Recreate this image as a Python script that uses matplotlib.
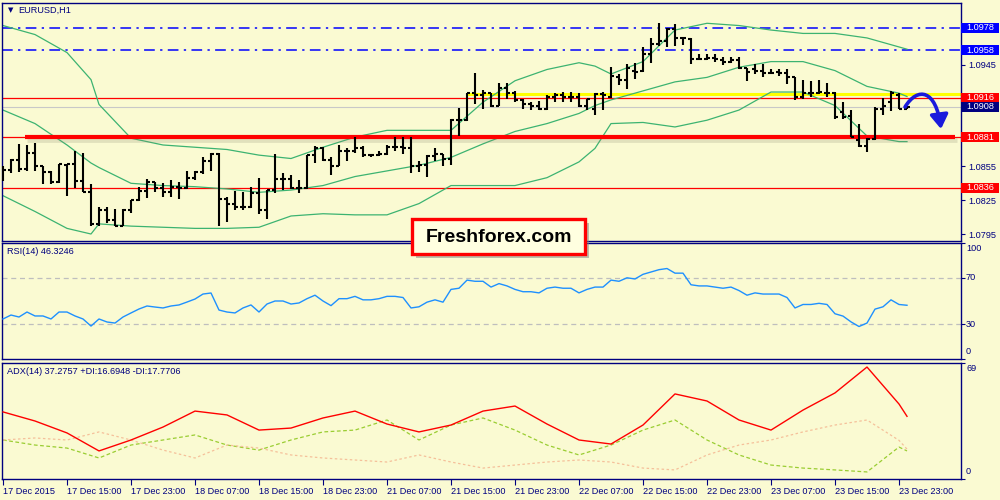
import matplotlib
matplotlib.use('Agg')
import matplotlib.pyplot as plt
import numpy as np
from matplotlib.patches import Rectangle, FancyArrowPatch
from matplotlib.path import Path
from matplotlib.transforms import Affine2D
import matplotlib.patheffects as pe

plt.rcParams['font.family'] = ['Liberation Sans', 'DejaVu Sans']

# ---------------- data ----------------
opens = [1.0848, 1.0852, 1.0861, 1.0853, 1.0867, 1.0855, 1.0850, 1.0841, 1.0856, 1.0857,
         1.0842, 1.0832, 1.0804, 1.0816, 1.0807, 1.0802, 1.0816, 1.0825, 1.0833, 1.0841,
         1.0836, 1.0832, 1.0837, 1.0836, 1.0845, 1.0850, 1.0860, 1.0866, 1.0826, 1.0822,
         1.0819, 1.0819, 1.0831, 1.0816, 1.0834, 1.0844, 1.0844, 1.0836, 1.0836, 1.0865,
         1.0871, 1.0861, 1.0855, 1.0869, 1.0869, 1.0871, 1.0865, 1.0865, 1.0866, 1.0872,
         1.0872, 1.0871, 1.0855, 1.0856, 1.0864, 1.0866, 1.0862, 1.0896, 1.0896, 1.0920,
         1.0918, 1.0920, 1.0909, 1.0925, 1.0920, 1.0914, 1.0910, 1.0909, 1.0906, 1.0917,
         1.0918, 1.0917, 1.0917, 1.0909, 1.0906, 1.0919, 1.0917, 1.0934, 1.0932, 1.0940,
         1.0940, 1.0955, 1.0964, 1.0966, 1.0977, 1.0969, 1.0968, 1.0950, 1.0950, 1.0951,
         1.0949, 1.0948, 1.0949, 1.0942, 1.0941, 1.0940, 1.0938, 1.0939, 1.0938, 1.0934,
         1.0917, 1.0920, 1.0920, 1.0920, 1.0920, 1.0903, 1.0900, 1.0878, 1.0873, 1.0879,
         1.0906, 1.0912, 1.0918, 1.0906]
highs = [1.0855, 1.0862, 1.0875, 1.0874, 1.0876, 1.0855, 1.0851, 1.0857, 1.0857, 1.0869,
         1.0867, 1.0839, 1.0819, 1.0819, 1.0817, 1.0817, 1.0825, 1.0837, 1.0844, 1.0841,
         1.0840, 1.0843, 1.0841, 1.0851, 1.0851, 1.0863, 1.0867, 1.0867, 1.0828, 1.0833,
         1.0832, 1.0837, 1.0845, 1.0834, 1.0866, 1.0849, 1.0847, 1.0843, 1.0865, 1.0873,
         1.0872, 1.0863, 1.0874, 1.0871, 1.0881, 1.0873, 1.0866, 1.0869, 1.0874, 1.0881,
         1.0881, 1.0881, 1.0860, 1.0865, 1.0871, 1.0866, 1.0897, 1.0907, 1.0920, 1.0938,
         1.0923, 1.0920, 1.0929, 1.0929, 1.0922, 1.0915, 1.0912, 1.0913, 1.0918, 1.0920,
         1.0921, 1.0921, 1.0920, 1.0915, 1.0920, 1.0921, 1.0943, 1.0937, 1.0946, 1.0947,
         1.0961, 1.0969, 1.0982, 1.0978, 1.0981, 1.0970, 1.0969, 1.0955, 1.0955, 1.0955,
         1.0952, 1.0952, 1.0952, 1.0942, 1.0946, 1.0946, 1.0941, 1.0941, 1.0941, 1.0934,
         1.0932, 1.0931, 1.0932, 1.0929, 1.0921, 1.0912, 1.0905, 1.0893, 1.0880, 1.0908,
         1.0916, 1.0922, 1.0920, 1.0908]
lows = [1.0842, 1.0849, 1.0850, 1.0851, 1.0851, 1.0839, 1.0839, 1.0840, 1.0829, 1.0836,
        1.0832, 1.0802, 1.0802, 1.0805, 1.0802, 1.0802, 1.0814, 1.0824, 1.0827, 1.0832,
        1.0828, 1.0828, 1.0826, 1.0835, 1.0843, 1.0848, 1.0851, 1.0802, 1.0806, 1.0816,
        1.0816, 1.0818, 1.0813, 1.0808, 1.0831, 1.0834, 1.0835, 1.0831, 1.0835, 1.0858,
        1.0860, 1.0847, 1.0855, 1.0860, 1.0867, 1.0863, 1.0863, 1.0864, 1.0865, 1.0869,
        1.0866, 1.0849, 1.0850, 1.0846, 1.0860, 1.0855, 1.0856, 1.0882, 1.0895, 1.0910,
        1.0906, 1.0908, 1.0909, 1.0915, 1.0912, 1.0906, 1.0905, 1.0905, 1.0905, 1.0912,
        1.0912, 1.0912, 1.0908, 1.0905, 1.0901, 1.0905, 1.0916, 1.0927, 1.0924, 1.0933,
        1.0939, 1.0947, 1.0962, 1.0961, 1.0962, 1.0963, 1.0946, 1.0950, 1.0949, 1.0948,
        1.0945, 1.0947, 1.0941, 1.0931, 1.0937, 1.0934, 1.0937, 1.0935, 1.0928, 1.0914,
        1.0915, 1.0917, 1.0919, 1.0917, 1.0897, 1.0897, 1.0881, 1.0872, 1.0868, 1.0878,
        1.0901, 1.0904, 1.0906, 1.0906]
closes = [1.0852, 1.0861, 1.0853, 1.0867, 1.0855, 1.0850, 1.0841, 1.0857, 1.0857, 1.0842,
          1.0832, 1.0804, 1.0816, 1.0807, 1.0802, 1.0816, 1.0825, 1.0833, 1.0841, 1.0836,
          1.0832, 1.0837, 1.0836, 1.0845, 1.0850, 1.0860, 1.0866, 1.0826, 1.0822, 1.0819,
          1.0819, 1.0831, 1.0816, 1.0834, 1.0844, 1.0844, 1.0836, 1.0836, 1.0865, 1.0871,
          1.0861, 1.0855, 1.0869, 1.0869, 1.0871, 1.0865, 1.0865, 1.0866, 1.0872, 1.0872,
          1.0871, 1.0855, 1.0856, 1.0864, 1.0866, 1.0862, 1.0896, 1.0896, 1.0920, 1.0918,
          1.0920, 1.0909, 1.0925, 1.0920, 1.0914, 1.0910, 1.0909, 1.0906, 1.0917, 1.0918,
          1.0917, 1.0917, 1.0909, 1.0915, 1.0919, 1.0918, 1.0935, 1.0932, 1.0942, 1.0939,
          1.0955, 1.0964, 1.0966, 1.0977, 1.0969, 1.0969, 1.0950, 1.0950, 1.0951, 1.0950,
          1.0948, 1.0949, 1.0942, 1.0939, 1.0940, 1.0938, 1.0938, 1.0938, 1.0934, 1.0917,
          1.0920, 1.0920, 1.0921, 1.0920, 1.0899, 1.0899, 1.0881, 1.0873, 1.0879, 1.0906,
          1.0909, 1.0920, 1.0906, 1.0908]

# Bollinger bands (20) read at these bars
bb_idx = [0, 4, 8, 11, 12, 16, 20, 24, 28, 32, 36, 40, 44, 48, 52, 56, 60, 64, 68, 72,
          74, 76, 80, 84, 88, 92, 96, 100, 104, 108, 112, 113]
bb_upper = [1.0980, 1.0972, 1.0956, 1.0932, 1.0910, 1.0880, 1.0874, 1.0872, 1.0870, 1.0865,
            1.0862, 1.0872, 1.0881, 1.0887, 1.0887, 1.0887, 1.0912, 1.0931, 1.0941, 1.0947,
            1.0944, 1.0937, 1.0948, 1.0976, 1.0982, 1.0980, 1.0976, 1.0973, 1.0973, 1.0969,
            1.0961, 1.0959]
bb_middle = [1.0905, 1.0893, 1.0874, 1.0858, 1.0854, 1.0840, 1.0838, 1.0837, 1.0835, 1.0832,
             1.0834, 1.0838, 1.0846, 1.0851, 1.0856, 1.0863, 1.0875, 1.0886, 1.0893, 1.0902,
             1.0909, 1.0914, 1.0922, 1.0930, 1.0934, 1.0943, 1.0948, 1.0948, 1.0940, 1.0926,
             1.0920, 1.0917]
bb_lower = [1.0829, 1.0815, 1.0800, 1.0795, 1.0804, 1.0802, 1.0801, 1.0800, 1.0800, 1.0801,
            1.0811, 1.0813, 1.0812, 1.0812, 1.0822, 1.0838, 1.0838, 1.0838, 1.0845, 1.0859,
            1.0871, 1.0893, 1.0894, 1.0890, 1.0896, 1.0905, 1.0921, 1.0921, 1.0909, 1.0882,
            1.0877, 1.0877]

rsi = [34.5, 37.9, 36.2, 40.5, 37.1, 37.1, 34.5, 40.5, 40.5, 37.1, 34.5, 28.4, 34.5, 31.9,
       31.0, 36.2, 39.7, 43.1, 45.7, 44.8, 44.0, 45.7, 46.6, 49.1, 51.7, 56.0, 56.9, 42.2,
       40.5, 39.7, 44.0, 46.6, 40.5, 47.4, 50.0, 50.0, 47.4, 48.3,
       52, 55, 50, 46, 52, 52, 54, 51, 51, 52, 54, 54, 53, 44, 45, 49, 51, 49,
       60, 61, 68, 67,
       67, 62, 65, 63, 60, 58, 58, 57, 61, 62, 61, 61, 57, 60, 62, 62,
       68, 67, 70, 69, 73, 75, 77, 78, 74, 74,
       64, 63, 63, 62, 61, 62, 59, 55, 57, 56, 56, 56, 53,
       44, 47, 47, 48, 47,
       39, 37, 32, 28, 31,
       43, 45, 51, 47, 46.3246]

adx_idx = [0, 4, 8, 12, 16, 20, 24, 28, 32, 36, 40, 44, 48, 52, 56, 60, 64, 68, 72, 76,
           80, 84, 88, 92, 96, 100, 104, 108, 112, 113]
adx = [39.9, 34.5, 27.4, 16.7, 23.2, 30.9, 40.4, 38.1, 29.1, 30.3, 36.3, 40.4, 32.7, 28.0,
       32.1, 40.4, 43.4, 32.7, 23.2, 20.8, 32.1, 50.6, 46.4, 35.1, 29.1, 41.0, 51.2, 66.6,
       44.6, 37.2757]
plus_di = [23.2, 20.2, 18.4, 12.5, 20.2, 23.2, 26.2, 20.2, 17.2, 23.2, 28.0, 29.1, 35.1,
           23.2, 32.1, 36.3, 29.1, 20.2, 14.3, 20.2, 29.1, 35.1, 23.2, 14.3, 8.3, 6.5, 5.4,
           4.2, 19.0, 16.6948]
minus_di = [23.2, 24.4, 23.2, 28.0, 23.2, 17.2, 12.5, 20.2, 18.4, 14.3, 12.5, 11.3, 10.1,
            14.3, 10.1, 6.5, 8.3, 10.1, 11.3, 10.1, 6.5, 5.4, 14.3, 20.2, 23.2, 28.0, 32.1,
            35.1, 23.0, 17.7706]

time_labels = ['17 Dec 2015', '17 Dec 15:00', '17 Dec 23:00', '18 Dec 07:00', '18 Dec 15:00',
               '18 Dec 23:00', '21 Dec 07:00', '21 Dec 15:00', '21 Dec 23:00', '22 Dec 07:00',
               '22 Dec 15:00', '22 Dec 23:00', '23 Dec 07:00', '23 Dec 15:00', '23 Dec 23:00']
time_label_bars = list(range(0, 113, 8))

price_ticks = [1.0975, 1.0945, 1.0915, 1.0885, 1.0855, 1.0825, 1.0795]
price_tick_labels = ['', '1.0945', '', '', '1.0855', '1.0825', '1.0795']
blue_levels = [1.0978, 1.0958]
red_thin_levels = [1.0916, 1.0881, 1.0836]
red_thick_level = 1.0881
yellow_level = 1.0919
bid_price = 1.0908

# ---------------- layout ----------------
W, H = 1000, 500
BG = '#FAFAD2'
NAVY = '#000080'
FS = 6.6

fig = plt.figure(figsize=(W / 100, H / 100), dpi=100)
fig.patch.set_facecolor(BG)


def rect(x0, y0, x1, y1):
    return [x0 / W, 1 - y1 / H, (x1 - x0) / W, (y1 - y0) / H]


ax = fig.add_axes(rect(2, 3, 961, 241))
ax_rsi = fig.add_axes(rect(2, 243, 961, 359))
ax_adx = fig.add_axes(rect(2, 363, 961, 479))

XL = (-0.125, 119.75)
for a in (ax, ax_rsi, ax_adx):
    a.set_facecolor(BG)
    a.set_xlim(*XL)
    for s in a.spines.values():
        s.set_color(NAVY)
        s.set_linewidth(1.0)
    a.yaxis.tick_right()
    a.tick_params(axis='y', colors=NAVY, labelcolor=NAVY, labelsize=FS, length=3,
                  width=0.8, pad=2)

ax.set_xticks([])
ax_rsi.set_xticks([])

# ---------------- main price panel ----------------
ax.set_ylim(1.07888, 1.10000)
ax.set_yticks(price_ticks)
ax.set_yticklabels(price_tick_labels)

for lv in blue_levels:
    ax.axhline(lv, color='#0000FF', lw=1.1, linestyle=(0, (7, 3.5, 1.5, 3.5)), zorder=1)
ax.axhline(bid_price, color='#C8C8C8', lw=0.8, zorder=1)
for lv in red_thin_levels:
    ax.axhline(lv, color='#FF0000', lw=0.9, zorder=1.2)
ax.plot([58.0, XL[1]], [yellow_level, yellow_level], color='#FFFF00', lw=2.2, zorder=1.1,
        solid_capstyle='butt')
ax.plot([2.75, 119.0], [red_thick_level, red_thick_level], color='#FF0000', lw=3.0,
        zorder=2.6, solid_capstyle='butt',
        path_effects=[pe.SimpleLineShadow(offset=(1.5, -2.0), shadow_color='#8A8A70',
                                          alpha=0.22, linewidth=3.5), pe.Normal()])

GREEN = '#3CB371'
ax.plot(bb_idx, bb_upper, color=GREEN, lw=0.9, zorder=2)
ax.plot(bb_idx, bb_middle, color=GREEN, lw=0.9, zorder=2)
ax.plot(bb_idx, bb_lower, color=GREEN, lw=0.9, zorder=2)

x = np.arange(len(closes))
ax.vlines(x, lows, highs, color='black', lw=1.5, zorder=3)
ax.hlines(opens, x - 0.42, x, color='black', lw=1.5, zorder=3)
ax.hlines(closes, x, x + 0.42, color='black', lw=1.5, zorder=3)

# price boxes on the right scale
ytr = ax.get_yaxis_transform()
box_h = 10 * (0.02112 / 238)
box_w = 38 / 959


def price_box(p, fc):
    ax.add_patch(Rectangle((1.0, p - box_h / 2), box_w, box_h, transform=ytr,
                           clip_on=False, fc=fc, ec='none', zorder=5))
    ax.text(1.0 + 5 / 959, p, '%.4f' % p, transform=ytr, color='white', fontsize=FS,
            ha='left', va='center', clip_on=False, zorder=6)


price_box(1.0978, '#0000FF')
price_box(1.0958, '#0000FF')
price_box(1.0916, '#FF0000')
price_box(bid_price, NAVY)
price_box(1.0881, '#FF0000')
price_box(1.0836, '#FF0000')

# curved blue arrow (forecast)
to_fig = Affine2D().scale(1 / W, -1 / H).translate(0, 1) + fig.transFigure
arrow_path = Path([(905, 107), (918, 86), (936, 90), (941, 129)],
                  [Path.MOVETO, Path.CURVE4, Path.CURVE4, Path.CURVE4])
arr = FancyArrowPatch(path=arrow_path, arrowstyle='-|>,head_length=0.7,head_width=0.45',
                      mutation_scale=12, color='#1A1ADC', lw=2.6, transform=to_fig,
                      zorder=12)
fig.add_artist(arr)

# ---------------- RSI panel ----------------
ax_rsi.set_ylim(0, 100)
ax_rsi.set_yticks([0, 30, 70, 100])
ax_rsi.set_yticklabels([])
for lv in (70, 30):
    ax_rsi.axhline(lv, color='#BEBEBE', lw=0.9, linestyle=(0, (4, 3)), zorder=1)
ax_rsi.plot(x, rsi, color='#1E90FF', lw=1.0, zorder=3)
rtr = ax_rsi.get_yaxis_transform()
for val, va in ((100, 'top'), (70, 'center'), (30, 'center'), (0, 'bottom')):
    ax_rsi.text(1.0 + 5 / 959, val + (-1 if va == 'top' else (3 if va == 'bottom' else 0)),
                str(val), transform=rtr, color=NAVY, fontsize=FS, ha='left', va=va,
                clip_on=False)

# ---------------- ADX panel ----------------
ax_adx.set_ylim(0, 69)
ax_adx.set_yticks([0, 69])
ax_adx.set_yticklabels([])
atr = ax_adx.get_yaxis_transform()
ax_adx.text(1.0 + 5 / 959, 68.2, '69', transform=atr, color=NAVY, fontsize=FS, ha='left',
            va='top', clip_on=False)
ax_adx.text(1.0 + 5 / 959, 2.0, '0', transform=atr, color=NAVY, fontsize=FS, ha='left',
            va='bottom', clip_on=False)
ax_adx.plot(adx_idx, plus_di, color='#9ACD32', lw=0.9, linestyle=(0, (3, 2)), zorder=2)
ax_adx.plot(adx_idx, minus_di, color='#F5C09A', lw=0.9, linestyle=(0, (2, 2)), zorder=2)
ax_adx.plot(adx_idx, adx, color='#FF0000', lw=1.0, zorder=3)

ax_adx.set_xticks(time_label_bars)
ax_adx.set_xticklabels(time_labels, ha='left')
ax_adx.tick_params(axis='x', colors=NAVY, labelcolor=NAVY, labelsize=FS, length=4,
                   width=0.8, pad=1.5, direction='out')

# ---------------- texts ----------------
fig.text(8 / W, 1 - 10.5 / H, '\u25BC', family='DejaVu Sans', fontsize=5, color=NAVY,
         ha='left', va='center')
fig.text(18 / W, 1 - 10 / H, 'EURUSD,H1', fontsize=FS, color=NAVY, ha='left', va='center')
fig.text(7 / W, 1 - 251 / H, 'RSI(14) 46.3246', fontsize=FS, color=NAVY, ha='left',
         va='center')
fig.text(7 / W, 1 - 371 / H, 'ADX(14) 37.2757 +DI:16.6948 -DI:17.7706', fontsize=FS,
         color=NAVY, ha='left', va='center')

box = Rectangle((412 / W, 1 - 254 / H), 173 / W, 35 / H, transform=fig.transFigure,
                fc='#FFFFE0', ec='#FF0000', lw=2.4, zorder=10,
                path_effects=[pe.withSimplePatchShadow(offset=(3, -3),
                                                       shadow_rgbFace='#808080', alpha=0.5)])
fig.add_artist(box)
fig.text(499 / W, 1 - 237 / H, 'Freshforex.com', fontsize=14, weight='bold', color='black',
         ha='center', va='center', zorder=11)

fig.savefig('out.png', dpi=100, facecolor=BG)
